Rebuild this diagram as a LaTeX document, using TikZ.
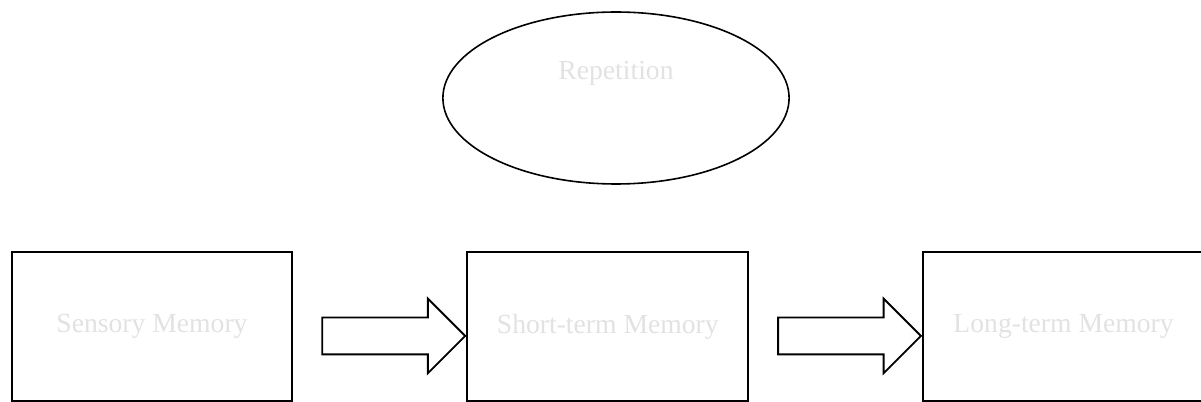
\documentclass[tikz,border=0pt]{standalone}
\usepackage{fontspec}
\setmainfont{Liberation Serif}
\usetikzlibrary{positioning,shapes.geometric,shapes.arrows}

\begin{document}
\begin{tikzpicture}[
        scale=1,
        memory_box/.style={rectangle, draw=black, line width=1.4pt, minimum width=7.43cm, minimum height=3.94cm, text=faintwhite, font=\fontsize{20.8}{25}\selectfont},
        loop_node/.style={ellipse, draw=black, line width=1.2pt, minimum width=9.16cm, minimum height=4.55cm, text depth=1.48cm, text=faintwhite, font=\fontsize{20.8}{25}\selectfont},
        block_arrow/.style={single arrow, draw=black, line width=1.4pt, minimum height=3.78cm, inner sep=0pt, inner ysep=0.463cm, single arrow head extend=0.5cm, single arrow tip angle=90}
    ]

        \definecolor{faintwhite}{RGB}{226, 226, 226}

        \useasboundingbox (0, 0) rectangle (31.776, 10.636);

        \node[loop_node] (rep) at (16.298, 8.043) {Repetition};

        \node[memory_box] (sensory) at (4.022, 1.998) {Sensory Memory};
        \node[memory_box, right=4.58cm of sensory] (shortterm) {Short-term Memory};
        \node[memory_box, right=4.58cm of shortterm] (longterm) {Long-term Memory};

        \node[block_arrow, anchor=tip] (a1) at ([yshift=-0.25cm]shortterm.west) {};
        \node[block_arrow, anchor=tip] (a2) at ([yshift=-0.25cm]longterm.west) {};
    \end{tikzpicture}
\end{document}
